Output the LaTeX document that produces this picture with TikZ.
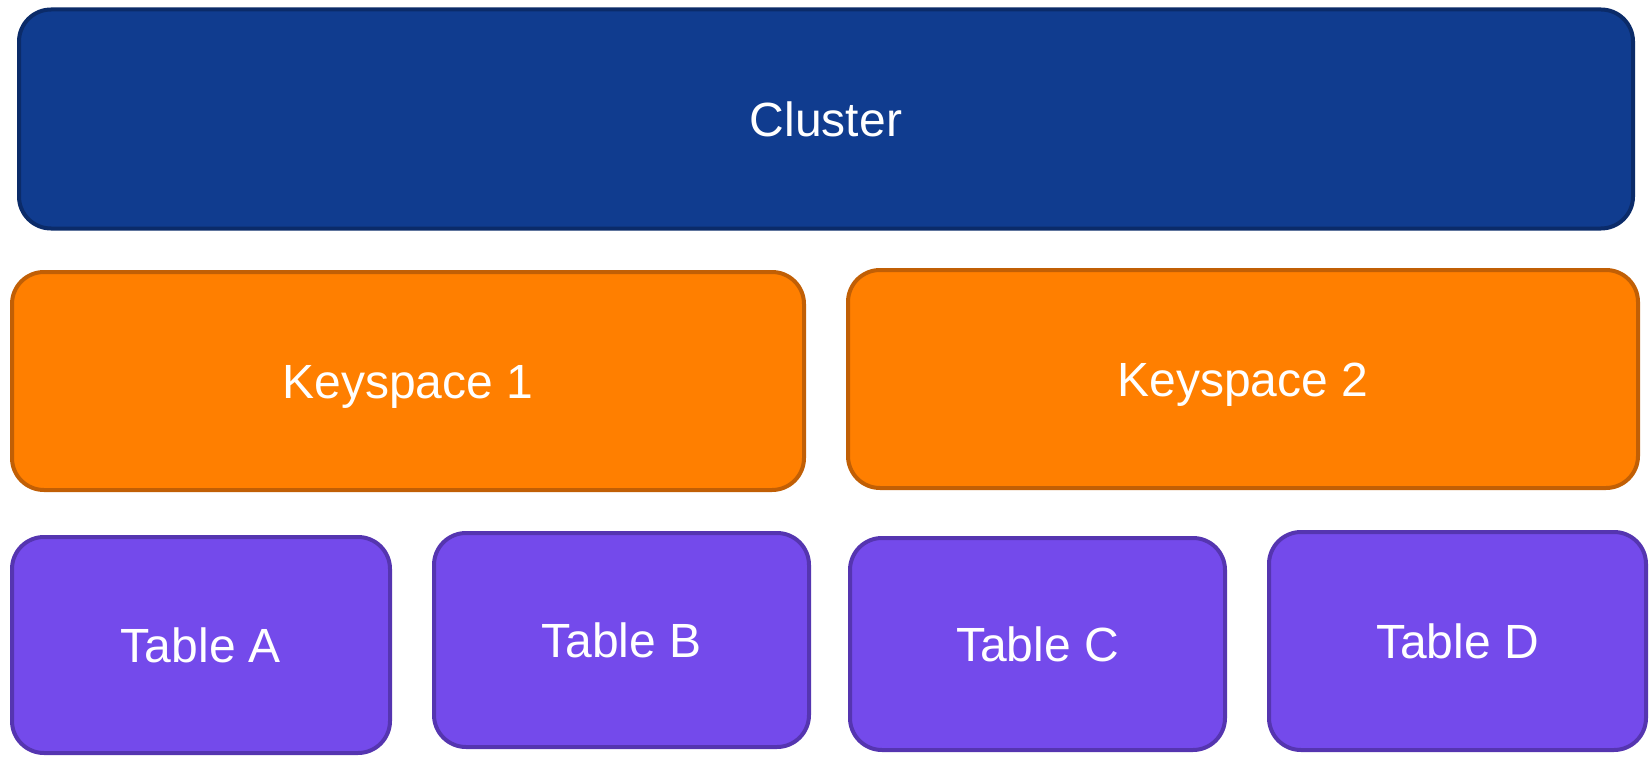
\documentclass[tikz,border=0pt]{standalone}
\usepackage{fontspec}
\setmainfont{Liberation Sans}
\definecolor{clusterfill}{HTML}{103C8F}
\definecolor{clusterline}{HTML}{0B2B69}
\definecolor{ksfill}{HTML}{FF7F00}
\definecolor{ksline}{HTML}{C15F05}
\definecolor{tblfill}{HTML}{744AEB}
\definecolor{tblline}{HTML}{5535B0}
\tikzset{
  box/.style={rectangle, rounded corners=32pt, line width=4pt, text=white,
    font=\fontsize{48}{56}\selectfont, inner sep=0pt,
    text height=34.4pt, text depth=0pt},
  clusterbox/.style={box, fill=clusterfill, draw=clusterline},
  ksbox/.style={box, fill=ksfill, draw=ksline},
  tblbox/.style={box, fill=tblfill, draw=tblline},
}
\begin{document}
\begin{tikzpicture}[x=1pt,y=-1pt]
  \useasboundingbox (0,0) rectangle (1650,757);
  \node[clusterbox, minimum width=1614pt, minimum height=219pt] (cluster) at (826,119) {Cluster};
  \node[ksbox, minimum width=792pt, minimum height=218pt] (ks1) at (408,381) {Keyspace 1};
  \node[ksbox, minimum width=790pt, minimum height=218pt] (ks2) at (1243,379) {Keyspace 2};
  \node[tblbox, minimum width=378pt, minimum height=216pt] (ta) at (201,645) {Table A};
  \node[tblbox, minimum width=375pt, minimum height=214pt] (tb) at (621.5,640) {Table B};
  \node[tblbox, minimum width=375pt, minimum height=212pt] (tc) at (1037.5,644) {Table C};
  \node[tblbox, minimum width=377pt, minimum height=218pt] (td) at (1457.5,641) {Table D};
\end{tikzpicture}
\end{document}
